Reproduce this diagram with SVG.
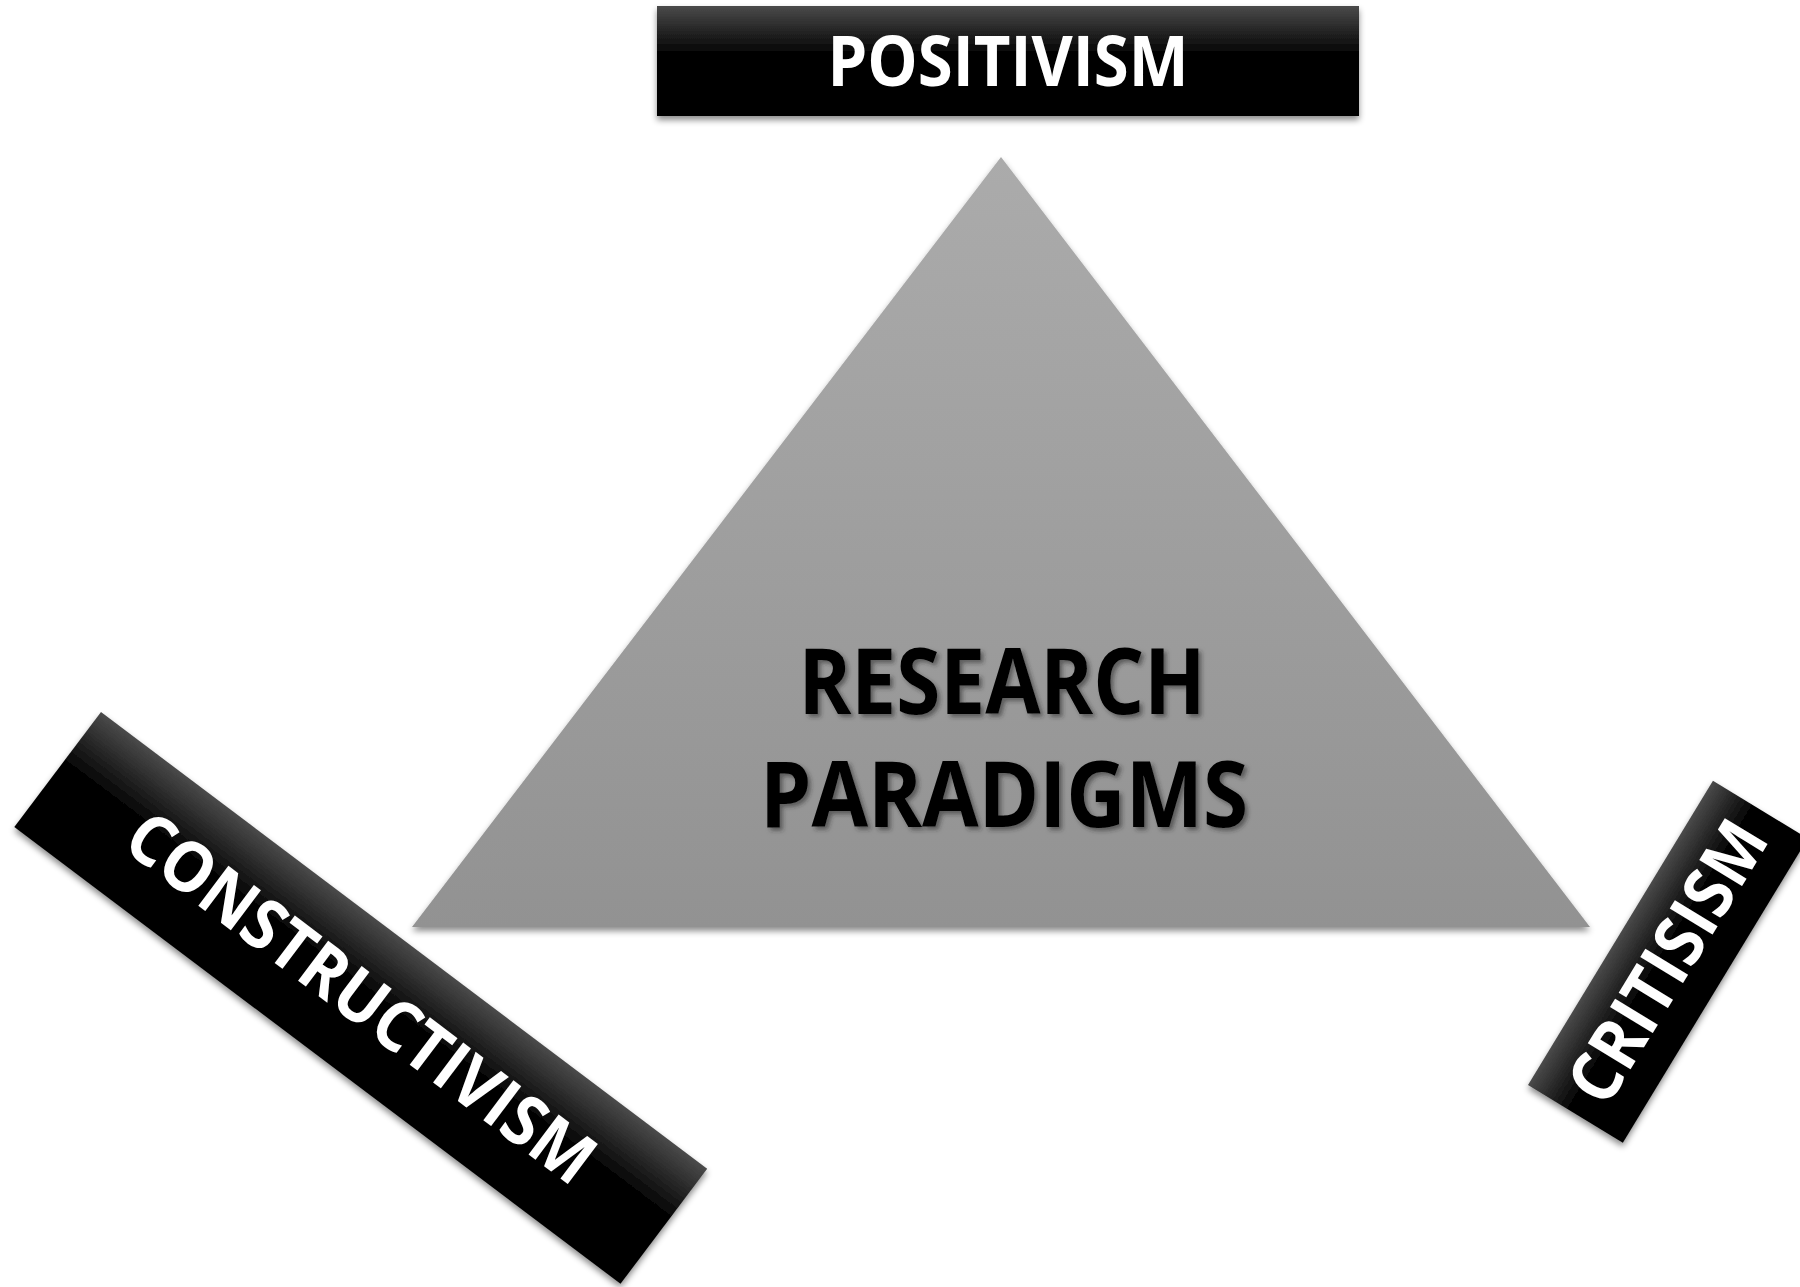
<svg xmlns="http://www.w3.org/2000/svg" width="1800" height="1287" viewBox="0 0 1800 1287">
  <defs>
    <linearGradient id="barFill" x1="0" y1="0" x2="0" y2="1">
      <stop offset="0" stop-color="#4a4a4a"/>
      <stop offset="0.45" stop-color="#000000"/>
      <stop offset="1" stop-color="#000000"/>
    </linearGradient>
    <linearGradient id="triFill" gradientUnits="userSpaceOnUse" x1="0" y1="157" x2="0" y2="927">
      <stop offset="0" stop-color="#ababab"/>
      <stop offset="1" stop-color="#929292"/>
    </linearGradient>
    <filter id="boxShadow" x="-10%" y="-10%" width="120%" height="130%">
      <feDropShadow dx="0" dy="4" stdDeviation="3" flood-color="#000" flood-opacity="0.45"/>
    </filter>
    <filter id="textShadow" x="-5%" y="-10%" width="110%" height="130%">
      <feDropShadow dx="3" dy="3" stdDeviation="2" flood-color="#2a2a2a" flood-opacity="0.55"/>
    </filter>
  </defs>
  <style>
    .bar { fill: url(#barFill); }
    .label { font-family: "Open Sans", "Lato", "Liberation Sans", sans-serif; font-weight: 700; fill: #ffffff; font-size: 70px; }
    .title { font-family: "Open Sans", "Lato", "Liberation Sans", sans-serif; font-weight: 700; fill: #000000; font-size: 91px; }
  </style>

  <rect width="1800" height="1287" fill="#ffffff"/>

  <!-- central triangle -->
  <g id="research-paradigms">
    <polygon points="1001,157 1590,927 412,927" fill="url(#triFill)" filter="url(#boxShadow)"/>
    <g filter="url(#textShadow)">
      <text class="title" x="1002" y="714" text-anchor="middle" textLength="407" lengthAdjust="spacingAndGlyphs">RESEARCH</text>
      <text class="title" x="1004" y="827" text-anchor="middle" textLength="488" lengthAdjust="spacingAndGlyphs">PARADIGMS</text>
    </g>
  </g>

  <!-- top bar -->
  <g id="positivism">
    <rect class="bar" x="657" y="6" width="702" height="110" filter="url(#boxShadow)"/>
    <text class="label" x="1008" y="86" text-anchor="middle" textLength="361" lengthAdjust="spacingAndGlyphs">POSITIVISM</text>
  </g>

  <!-- lower-left bar -->
  <g id="constructivism" filter="url(#boxShadow)">
    <g transform="translate(101,712) rotate(37)">
      <rect class="bar" x="0" y="0" width="759" height="144"/>
      <text class="label" x="379.5" y="96" text-anchor="middle" textLength="566" lengthAdjust="spacingAndGlyphs">CONSTRUCTIVISM</text>
    </g>
  </g>

  <!-- lower-right bar -->
  <g id="critisism" filter="url(#boxShadow)">
    <g transform="translate(1528,1085) rotate(-58.7)">
      <rect class="bar" x="0" y="0" width="356" height="111"/>
      <text class="label" x="178" y="79.5" text-anchor="middle" textLength="316" lengthAdjust="spacingAndGlyphs">CRITISISM</text>
    </g>
  </g>

  <!-- no connectors in this figure -->
  <g id="connectors"/>
</svg>
